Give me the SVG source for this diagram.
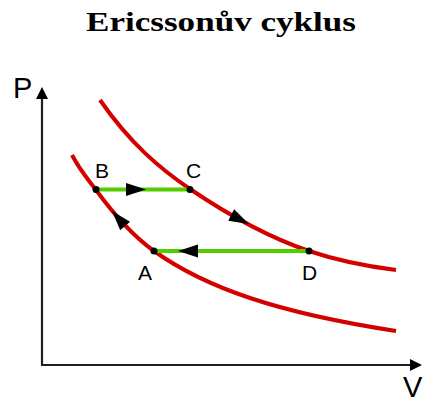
<svg xmlns="http://www.w3.org/2000/svg" width="425" height="405" viewBox="0 0 425 405">
<style>
.title{font-family:"Liberation Serif","DejaVu Serif",serif;font-weight:bold;font-size:28px;fill:#000}
.lbl{font-family:"Liberation Sans",Arial,sans-serif;font-size:21px;fill:#000}
.ax{font-family:"Liberation Sans",Arial,sans-serif;font-size:29px;fill:#000}
.axis{stroke:#231f20;stroke-width:2.2;fill:none}
.iso{stroke:#d40000;stroke-width:4;fill:none;stroke-linecap:butt}
.isob{stroke:#55cc00;stroke-width:4;fill:none}
.dot{fill:#000}
.ah{fill:#000}
</style>
<defs>
<polygon id="head" points="0,0 -20,-6.5 -20,6.5"/>
</defs>
<text class="title" x="221" y="31" text-anchor="middle" textLength="270" lengthAdjust="spacingAndGlyphs">Ericssonův cyklus</text>
<g id="axes">
<line class="axis" x1="42" y1="365" x2="42" y2="96"/>
<polygon class="ah" points="42,87 36,99 48,99" fill="#231f20"/>
<line class="axis" x1="41" y1="365" x2="413" y2="365"/>
<polygon class="ah" points="422,365 410,359 410,371" fill="#231f20"/>
<text class="ax" x="13" y="98">P</text>
<text class="ax" x="403" y="397" font-size="27">V</text>
</g>
<g id="connectors">
<path id="iso-low" class="iso" d="M72,155 C80,170.4 88,179.1 96,190 C115.3,216.3 134.7,237.3 154,251 C186,273.8 218,287.3 250,298 C298.7,314.3 347.3,323.5 396,331"/>
<path id="iso-high" class="iso" d="M100,100 C130,143.3 160,168.7 190,189 C229.7,215.9 269.3,237.6 309,251 C338,260.8 367,266.4 396,270"/>
<line id="BC" class="isob" x1="96" y1="189.5" x2="190" y2="189.5"/>
<line id="DA" class="isob" x1="154" y1="251" x2="309" y2="251"/>
<use href="#head" class="ah" transform="translate(146,189.5)"/>
<use href="#head" class="ah" transform="translate(178,251) rotate(180)"/>
<use href="#head" class="ah" transform="translate(112,211) rotate(-131)"/>
<use href="#head" class="ah" transform="translate(249,224) rotate(27)"/>
</g>
<g id="B"><circle class="dot" cx="96" cy="189.5" r="3.5"/><text class="lbl" x="95" y="178">B</text></g>
<g id="C"><circle class="dot" cx="190" cy="189.5" r="3.5"/><text class="lbl" x="186" y="178">C</text></g>
<g id="A"><circle class="dot" cx="154" cy="251" r="3.5"/><text class="lbl" x="138" y="280">A</text></g>
<g id="D"><circle class="dot" cx="309" cy="251" r="3.5"/><text class="lbl" x="302" y="280">D</text></g>
</svg>
